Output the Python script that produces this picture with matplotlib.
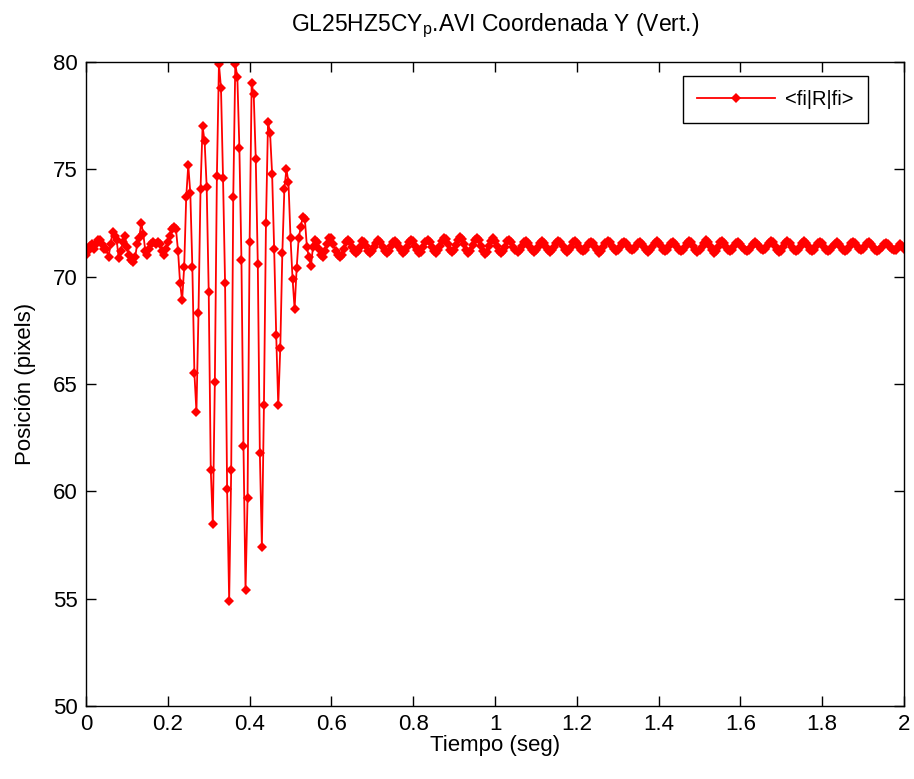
import numpy as np
import matplotlib.pyplot as plt

plt.rcParams['font.family'] = ['Liberation Sans', 'DejaVu Sans']
plt.rcParams['mathtext.fontset'] = 'custom'
plt.rcParams['mathtext.rm'] = 'Liberation Sans'

# camara a 200 cuadros por segundo
fps = 200

# 0.000 - 0.195 s, reposo antes de la excitacion
pos_before = [71.0, 71.2, 71.45, 71.5, 71.3, 71.5, 71.7, 71.7, 71.5, 71.3,
              71.3, 70.9, 71.5, 72.1, 71.9, 71.7, 70.85, 71.2, 71.6, 71.9,
              71.4, 71.0, 70.8, 70.7, 70.9, 71.5, 71.8, 72.5, 72.0, 71.2,
              71.0, 71.3, 71.5, 71.6, 71.5, 71.6, 71.5, 71.2, 71.0, 71.3]

# 0.200 - 0.550 s, oscilacion de 25 Hz
pos_burst = [71.6, 71.9, 72.2, 72.3, 72.2, 71.2, 69.7, 68.9, 70.45, 73.7,
             75.2, 73.9, 70.45, 65.5, 63.7, 68.3, 74.1, 77.0, 76.3, 74.2,
             69.3, 61.0, 58.5, 65.1, 74.7, 79.9, 78.8, 74.6, 69.7, 60.1,
             54.9, 61.0, 73.7, 79.9, 79.3, 76.0, 70.8, 62.1, 55.4, 59.7,
             71.6, 79.0, 78.5, 75.5, 70.6, 61.8, 57.4, 64.0, 72.5, 77.2,
             76.7, 74.8, 71.3, 67.3, 64.0, 66.7, 71.1, 74.1, 75.0, 74.4,
             71.8, 69.9, 68.5, 70.4, 71.8, 72.3, 72.8, 72.7, 71.4, 70.9,
             70.5]

# 0.555 - 2.000 s, residuo
pos_after = [71.4, 71.7, 71.6, 71.3, 71.0, 70.9, 71.2, 71.5, 71.8, 71.8,
             71.5, 71.2, 71.0, 70.9, 71.0, 71.3, 71.6, 71.7, 71.6, 71.4,
             71.2, 71.1, 71.2, 71.4,
             71.65, 71.60, 71.42, 71.20, 71.10, 71.18, 71.38, 71.58,
             71.70, 71.62, 71.40, 71.18, 71.08, 71.20, 71.42, 71.60,
             71.68, 71.58, 71.38, 71.22, 71.12, 71.20, 71.40, 71.62,
             71.72, 71.64, 71.45, 71.22, 71.10, 71.16, 71.36, 71.60,
             71.70, 71.60, 71.40, 71.20, 71.12, 71.22, 71.44, 71.66,
             71.80, 71.74, 71.50, 71.25, 71.15, 71.24, 71.48, 71.72,
             71.85, 71.76, 71.50, 71.22, 71.10, 71.20, 71.46, 71.70,
             71.82, 71.72, 71.45, 71.18, 71.05, 71.16, 71.42, 71.68,
             71.78, 71.68, 71.42, 71.20, 71.10, 71.18, 71.40, 71.64,
             71.72, 71.62, 71.40, 71.22, 71.14, 71.22, 71.42, 71.60,
             71.66, 71.58, 71.40, 71.24, 71.16, 71.22, 71.38, 71.56,
             71.64, 71.56, 71.38, 71.22, 71.16, 71.24, 71.40, 71.58,
             71.68, 71.60, 71.42, 71.24, 71.16, 71.22, 71.40, 71.60,
             71.66, 71.58, 71.40, 71.24, 71.18, 71.26, 71.42, 71.58,
             71.62, 71.56, 71.40, 71.22, 71.12, 71.20, 71.38, 71.56,
             71.68, 71.60, 71.44, 71.28, 71.20, 71.26, 71.40, 71.56,
             71.62, 71.56, 71.42, 71.28, 71.22, 71.28, 71.42, 71.56,
             71.62, 71.54, 71.38, 71.24, 71.14, 71.22, 71.40, 71.58,
             71.64, 71.58, 71.42, 71.26, 71.20, 71.26, 71.42, 71.56,
             71.60, 71.54, 71.40, 71.26, 71.18, 71.24, 71.40, 71.56,
             71.66, 71.60, 71.44, 71.26, 71.16, 71.22, 71.38, 71.58,
             71.70, 71.62, 71.42, 71.22, 71.12, 71.20, 71.40, 71.60,
             71.64, 71.56, 71.40, 71.24, 71.18, 71.26, 71.42, 71.56,
             71.62, 71.54, 71.40, 71.26, 71.20, 71.26, 71.40, 71.54,
             71.60, 71.54, 71.42, 71.28, 71.22, 71.28, 71.42, 71.56,
             71.68, 71.60, 71.42, 71.24, 71.14, 71.20, 71.38, 71.58,
             71.66, 71.58, 71.40, 71.24, 71.18, 71.24, 71.40, 71.56,
             71.64, 71.58, 71.42, 71.26, 71.20, 71.26, 71.42, 71.58,
             71.62, 71.56, 71.40, 71.26, 71.20, 71.24, 71.38, 71.54,
             71.60, 71.54, 71.40, 71.26, 71.18, 71.24, 71.40, 71.56,
             71.62, 71.56, 71.42, 71.28, 71.22, 71.28, 71.42, 71.56,
             71.60, 71.54, 71.40, 71.26, 71.20, 71.26, 71.40, 71.54,
             71.58, 71.52, 71.40, 71.28, 71.22, 71.26, 71.38, 71.50,
             71.42, 71.30]

pos = np.array(pos_before + pos_burst + pos_after)
tiempo = np.arange(len(pos)) / fps

xticks = [0, 0.2, 0.4, 0.6, 0.8, 1, 1.2, 1.4, 1.6, 1.8, 2]
yticks = [50, 55, 60, 65, 70, 75, 80]

fig = plt.figure(figsize=(9.14, 7.79), dpi=100)
ax = fig.add_axes([0.0941, 0.0937, 0.8950, 0.8267])

ax.plot(tiempo, pos, '-', color='red', lw=1.3, marker='D', ms=5, mew=0,
        label='<fi|R|fi>')

ax.set_xlim(0, 2)
ax.set_ylim(50, 80)
ax.set_xticks(xticks)
ax.set_xticklabels([f'{v:g}' for v in xticks])
ax.set_yticks(yticks)
ax.tick_params(direction='in', top=True, right=True, length=7, width=1,
               labelsize=16, pad=6)
for s in ax.spines.values():
    s.set_linewidth(1)

ax.set_title('GL25HZ5CY$_{\\mathrm{p}}$.AVI Coordenada Y (Vert.)',
             fontsize=16.5, pad=22)
ax.set_xlabel('Tiempo (seg)', fontsize=16, labelpad=0)
ax.set_ylabel('Posición (pixels)', fontsize=16, labelpad=12)

leg = ax.legend(loc='upper right', bbox_to_anchor=(0.956, 0.978),
                borderaxespad=0, fancybox=False, framealpha=1,
                edgecolor='black', fontsize=14.5, handlelength=3.9,
                handletextpad=0.5, borderpad=0.7)
leg.get_frame().set_linewidth(1)

fig.savefig('out.png', dpi=100)
